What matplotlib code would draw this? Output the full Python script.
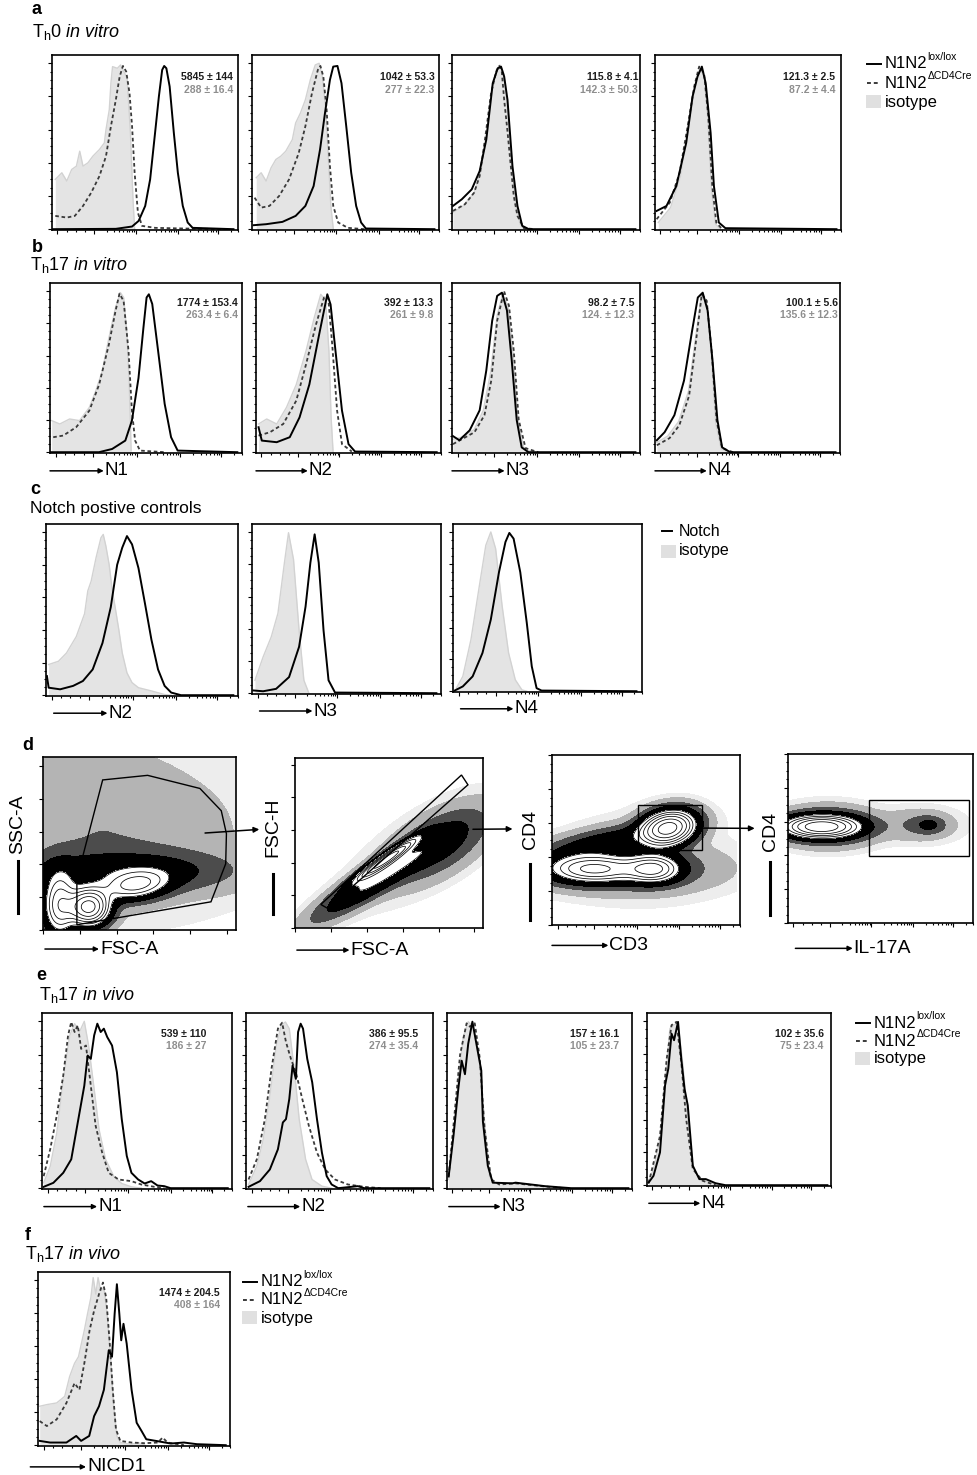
import numpy as np
import matplotlib
matplotlib.use("Agg")
import matplotlib.pyplot as plt
from matplotlib.lines import Line2D
from matplotlib.patches import Polygon, Rectangle

plt.rcParams['font.family'] = ['Liberation Sans', 'DejaVu Sans']
plt.rcParams['mathtext.fontset'] = 'custom'
plt.rcParams['mathtext.rm'] = 'Liberation Sans'
plt.rcParams['mathtext.it'] = 'Liberation Sans:italic'
plt.rcParams['mathtext.bf'] = 'Liberation Sans:bold'

# ---- histogram data: (fluorescence 0-100, % of max) ----
# row a : Th0 in vitro
a1_iso = ([1.8, 5.4, 8.1, 10.8, 13.4, 15.2, 17, 19.7, 22.4, 26, 28.7, 29.6, 31.4, 32.3, 33.2, 35.8, 37.6, 39.4, 41.2, 43, 44.4, 45.3],
          [30, 34, 29, 36, 38, 47, 38, 40, 44, 48, 52, 60, 72, 88, 98, 97, 99, 95, 91, 58, 18, 0])
a1_dash = ([1.8, 8.1, 12.5, 17, 21.5, 26, 29.6, 32.3, 35, 37.1, 38.9, 40.7, 42.5, 43.9, 45.3, 47.1, 49.3, 56.5, 72.6, 97.7],
           [8, 7, 8, 14, 22, 32, 44, 62, 78, 92, 98.4, 95, 82, 62, 34, 10, 2, 0.8, 0.4, 0])
a1_solid = ([0.4, 35, 43.9, 47.5, 51.1, 53.8, 56.5, 58.6, 60.4, 61.5, 62.7, 64.5, 66.8, 69, 71.7, 74.4, 77.1, 99.5],
            [0, 0.2, 1.6, 5, 14, 30, 58, 80, 96, 98.4, 97, 86, 58, 34, 14, 4, 0.8, 0])
a2_iso = ([2.3, 5, 7.7, 10.4, 13, 15.7, 18.4, 22, 23.8, 26.4, 29.1, 31.8, 34.5, 36.6, 38.4, 40.2, 41.6, 43, 44.3],
          [31, 34, 29, 37, 42, 44, 47, 54, 64, 70, 78, 90, 99, 100, 92, 72, 44, 14, 0.4])
a2_dash = ([1.4, 5, 9.5, 14.8, 20.2, 25.5, 29.1, 32.7, 35.9, 37.3, 38.9, 40.7, 42.5, 44.3, 47, 52.3, 61.3],
           [19, 13, 14, 20, 30, 46, 62, 82, 96, 98.4, 92, 72, 38, 14, 4, 0.8, 0])
a2_solid = ([0.9, 7.7, 16.6, 23.8, 29.1, 33.6, 37.1, 39.8, 42.5, 44.3, 46.6, 48.8, 51.4, 54.1, 56.8, 59.5, 62.1, 99.5],
            [2.4, 3, 4.4, 8, 14, 26, 48, 70, 90, 98, 98.4, 88, 62, 34, 14, 4, 0.4, 0])
a3_iso = ([0.5, 6, 12, 15.5, 18.5, 21.5, 24, 26, 28, 30, 32, 34.5, 37, 40],
          [10, 14, 22, 34, 55, 83, 96, 99, 94, 74, 45, 15, 3, 0])
a3_dash = ([0.5, 7, 12, 15, 18, 21.2, 24, 25.7, 27, 28.3, 30, 31.9, 33.5, 35.5, 39, 45],
           [11, 15, 22, 32, 55, 82, 95, 98.4, 95, 78, 60, 38, 20, 8, 0.6, 0])
a3_solid = ([0.5, 5.3, 10.7, 15, 18.6, 22.1, 24.8, 26.6, 28.3, 30.1, 32.8, 35.5, 38.1, 41.7, 99.5],
            [14, 18, 24, 35, 54, 88, 97, 98, 92, 78, 38, 14, 2, 0, 0])
a4_iso = ([1.8, 8.5, 14, 18.2, 22, 24.5, 27, 29, 31, 33.2, 36],
          [4, 13, 32, 60, 86, 97, 92, 66, 24, 3, 0])
a4_dash = ([0.9, 8.1, 13.5, 17.9, 21.5, 24.2, 26.9, 29.2, 31.4, 33.6, 36.8],
           [6, 16, 34, 62, 86, 98, 94, 68, 26, 4, 0])
a4_solid = ([0.9, 6.3, 11.7, 17.1, 20.6, 23.3, 25.7, 27.8, 30.5, 32.3, 35, 38.6, 99.5],
            [11, 14, 26, 52, 80, 92, 98, 88, 58, 26, 4, 0.6, 0])

# row b : Th17 in vitro
b1_iso = ([0.9, 5.2, 10.4, 15.7, 20.9, 24.3, 27.8, 31.3, 34.8, 37.4, 39.1, 40.9, 42.1, 43.1],
          [19.6, 17.5, 20.6, 19.6, 27.8, 38, 50.5, 71, 89.7, 99, 96, 73, 42, 1])
b1_dash = ([1.7, 7, 13.9, 20.9, 26.1, 31.3, 34.8, 36.9, 39.1, 41.7, 43.5, 45.2, 47.8, 61],
           [9.3, 10.3, 15.5, 25.8, 42, 67, 87.6, 98.4, 93.8, 63, 25.8, 7.2, 1, 0])
b1_solid = ([0, 26, 33, 40, 43.5, 47, 49.6, 51.3, 52.5, 54.3, 57.4, 60.9, 64.3, 67.8, 99.5],
            [0, 0, 2, 7.2, 19.6, 46, 77, 96, 98, 92, 63, 30, 9.3, 1, 0])
b2_iso = ([1.4, 5.9, 11.4, 16.8, 22.2, 27.6, 32.1, 35.7, 38.4, 40.2, 41.4, 42.5],
          [17.5, 20.6, 17.5, 27.8, 42, 63, 83.5, 98, 94, 63, 21.6, 0])
b2_dash = ([1.4, 7.7, 15, 22.2, 27.6, 33, 37.5, 39.8, 42, 44.7, 47.4, 52.8],
           [10.3, 12.4, 17.5, 32, 54.6, 79, 96, 96, 67, 25.8, 5, 0.4])
b2_solid = ([1.4, 3.2, 11.4, 18.6, 24, 29.4, 34.8, 39.3, 41.1, 43.8, 47.4, 51, 54.6, 99.6],
            [15.5, 7.2, 6.2, 9.3, 21.6, 42, 73, 98, 91.7, 63, 25.8, 5, 0.4, 0])
b3_iso = ([0.5, 4.5, 12, 17, 21, 24.5, 27.5, 30.5, 33, 35.8, 39, 44],
          [8, 9, 14, 26, 50, 85, 98, 90, 62, 20, 2, 0])
b3_dash = ([0.5, 4.3, 12.2, 17.6, 21.3, 24.5, 28.2, 30.9, 33.5, 36.2, 39.9, 46.8],
           [5, 7.4, 12.4, 23, 44.5, 81.6, 100, 91, 63, 20, 2.5, 0])
b3_solid = ([0.5, 4, 9.6, 15, 18.6, 21.8, 24.5, 27.1, 29.8, 32.4, 35.1, 37.8, 41.5, 99.5],
            [10, 7.4, 13.6, 26, 50.7, 81.6, 97, 99, 88, 57, 20, 3, 0, 0])
b4_iso = ([1, 7, 13, 18.5, 22.5, 25.5, 28.5, 31, 33.5, 36.5, 41],
          [6, 10, 19, 38, 72, 97, 93, 62, 18, 2, 0])
b4_dash = ([1, 8, 13.4, 18.8, 22.6, 25.8, 28.5, 31.2, 33.9, 37, 43],
           [4.3, 8.7, 16.7, 35, 69, 98, 94, 63, 20, 2.5, 0])
b4_solid = ([1, 5.3, 10.7, 16, 20.4, 23.6, 26.3, 29, 31.7, 34.4, 37, 41.4, 99.5],
            [7.4, 12.4, 23, 44.5, 75, 96, 99, 88, 57, 20, 3, 0, 0])

# row c : Notch positive controls
c1_iso = ([1.4, 6.6, 10.9, 16.1, 20.5, 22.2, 24, 26.6, 29.2, 30.4, 31.8, 33.5, 35.2, 37, 38.7, 40.5, 43, 45.7, 49.1, 56, 63, 66.5],
          [18.8, 20.8, 25.9, 36, 50, 64, 70, 84.4, 96.6, 98.6, 91.5, 80.4, 64.2, 52, 40, 25.9, 13.7, 7.7, 4.6, 2.6, 0.4, 0])
c1_solid = ([0.5, 1.4, 7.5, 14.4, 19.6, 24.8, 30, 34.4, 37.8, 40.5, 43, 45.7, 49.1, 52.6, 56, 59.5, 63, 66.5, 71.7, 99.5],
            [11.7, 4.6, 3.6, 5.7, 8.7, 15.8, 32, 54, 80, 90.5, 97.6, 92.5, 78, 56, 34, 15.8, 5.7, 1.6, 0, 0])
c2_iso = ([1.6, 6, 10.4, 14, 17.5, 19.7, 22.4, 25.4, 28, 30.7],
          [8, 22.5, 35, 49.6, 81, 99.6, 83, 39, 8, 0])
c2_solid = ([0.7, 6, 13, 20, 25.4, 28.9, 31.5, 33.8, 36, 38.6, 41.3, 44.8, 99.5],
            [1.7, 1.2, 2.7, 10, 28.8, 53.8, 81, 98.6, 81, 39, 8, 0.4, 0])
c3_iso = ([1.8, 5.3, 9.7, 14.2, 17.7, 20.4, 23, 26.5, 30, 33.6, 37.2, 39.8],
          [1.9, 9.3, 32.5, 66, 91.6, 100, 89.5, 53.6, 24, 7.2, 0.8, 0])
c3_solid = ([0.9, 5.3, 10.6, 15.9, 20.4, 24.8, 28.3, 30.4, 32.7, 36.3, 39.8, 42.5, 45.1, 47.8, 99],
            [0.4, 3, 9.3, 24, 45, 74.7, 93.7, 99.4, 95.8, 74.7, 43, 15.6, 1.9, 0.4, 0])

# row e : Th17 in vivo
e1_iso = ([0.9, 4.4, 7.9, 11.4, 14.9, 17.5, 20.1, 22.7, 25, 28, 30.6, 34.1, 38.5, 42.8, 48, 53.3],
          [3.2, 13, 33, 65.5, 91.6, 98.6, 93.6, 100, 85.5, 59.4, 35.3, 17.3, 7.2, 2.8, 0.8, 0])
e1_dash = ([0.9, 4.4, 7.9, 11.4, 14, 15.7, 17.5, 19.2, 21, 23.6, 26.2, 28.8, 32.3, 35.8, 41.1, 48, 53.3, 60.3, 65.6],
           [7.2, 23.3, 43.4, 67.5, 91.6, 99.6, 93.6, 97.6, 83.5, 85.5, 61.4, 37.3, 21.3, 9.2, 5.2, 4.2, 2.2, 0.8, 0])
e1_solid = ([0.9, 6.1, 11.4, 15.7, 19.2, 22.7, 24.5, 26.2, 28, 29.7, 31.5, 33.2, 35, 37.6, 40.2, 42.8, 45.5, 48, 51.6, 55.1, 58.6, 62, 65.6, 69, 99.7],
            [0.8, 3.2, 9.2, 17.3, 39.4, 61.4, 79.5, 77.5, 91.6, 98.6, 93.6, 95.6, 90.6, 85.5, 69.5, 41.4, 19.3, 9.2, 5.2, 2.8, 4.2, 1.6, 1.2, 0, 0])
e2_iso = ([1.4, 5.9, 9.4, 13, 16.5, 19.2, 21.5, 23.6, 26.3, 29, 32.5, 36, 41.4, 46.7],
          [2.2, 13.3, 29.3, 55.4, 85.5, 97.6, 99.6, 95.6, 71.5, 41.4, 17.3, 5.2, 1.2, 0])
e2_dash = ([1.4, 5.9, 10.3, 13.9, 17.4, 19.7, 21.8, 24.5, 27.2, 30.7, 34.3, 38.7, 43.2, 48.5, 55.6, 64.5, 73.4],
           [5.2, 17.3, 41.4, 71.5, 95.6, 99.2, 87.6, 77.5, 69.5, 53.4, 37.3, 21.3, 11.2, 5.2, 2.2, 0.8, 0])
e2_solid = ([1.4, 7.6, 13, 17.4, 20.1, 21.8, 23.6, 25.4, 27.2, 28.4, 29.8, 31.1, 33.4, 36.1, 38.7, 41.4, 44, 46.7, 50.3, 61, 64.5, 100],
            [0.8, 4.2, 11.2, 23.3, 39.4, 41.4, 53.4, 73.5, 65.5, 93.6, 98.6, 95.6, 77.5, 63.5, 41.4, 21.3, 7.2, 2.2, 0, 1.2, 0, 0])
e3_iso = ([0.9, 3.6, 6.3, 9, 11.7, 14.4, 18, 20.7, 23.4, 26.1, 36, 54, 63],
          [5.3, 29.7, 66.3, 90.7, 99.8, 96.8, 74.4, 40, 7.3, 2.9, 2.9, 1, 0])
e3_dash = ([0.9, 3.6, 7.2, 10.8, 12.6, 15.3, 18, 20.7, 24.3, 28.8, 37.8, 54, 65],
           [7, 38, 80, 98.8, 96.8, 98.8, 78.5, 35.8, 5.3, 2.2, 2.9, 1, 0])
e3_solid = ([0.9, 3.6, 6.3, 8.1, 9.9, 11.7, 14, 16.2, 18.9, 19.8, 22.5, 25.2, 36, 37.8, 54, 68.4, 100],
            [7, 31.7, 60.2, 76.4, 68.3, 86.6, 99.8, 86.6, 70.5, 39.9, 13.4, 3.3, 2.9, 3.3, 1.2, 0, 0])
e4_iso = ([0.9, 3.6, 7.2, 10, 12.7, 14.5, 17.2, 19.9, 22.6, 25.4, 29, 36.2, 39.9],
          [2.7, 9.8, 28.2, 60.8, 95.5, 97.6, 98.6, 73, 40.4, 11.8, 3.7, 1.2, 0])
e4_dash = ([0.9, 7.2, 10.9, 13.6, 16.3, 19, 21.7, 25.4, 30.8, 38],
           [1.2, 30, 77, 97.6, 99.6, 75, 40.4, 9.8, 2.7, 0])
e4_solid = ([0.9, 3.6, 7.2, 10, 11.8, 13.6, 15, 17.2, 19, 20.8, 22.6, 25.4, 29, 32.6, 38, 43.5, 100],
            [1.6, 5.7, 20, 60.8, 71, 92.4, 88.4, 99.6, 77.1, 58.8, 48.6, 11.8, 3.7, 3.7, 1.2, 0, 0])

# row f : NICD1
f_iso = ([0.9, 4.7, 9.9, 14.2, 16.8, 19.4, 21.5, 24.6, 26.3, 28.1, 29.3, 30.7, 31.9, 33.3, 35, 36.7, 38.5, 40.2, 41.9, 43.7, 49.7, 53.2, 56.7],
         [23.6, 24.6, 25.6, 29.6, 41.6, 49.6, 53.6, 69.6, 79.6, 89.6, 101.6, 91.6, 101.6, 93.6, 95.6, 79.6, 53.6, 23.6, 5.6, 1.6, 0.6, 1.6, 0])
f_dash = ([0.9, 4.7, 9.9, 15.1, 19.4, 22, 24.6, 27.4, 29.8, 32.4, 34.5, 36.2, 38, 39.7, 41.4, 43.7, 49.7, 56.7, 63.6, 66.2, 68.8, 77.5],
          [14.6, 11.6, 15.6, 25.6, 37.6, 33.6, 49.6, 69.6, 81.6, 91.6, 98.6, 89.6, 63.6, 33.6, 9.6, 2.6, 1.6, 1.2, 1.6, 4.6, 1.6, 0])
f_solid = ([0.9, 6.4, 15.1, 20.3, 22.9, 27.2, 29.8, 32.4, 35, 37.6, 39.3, 40.7, 41.9, 43.2, 44.2, 45.4, 47.1, 49.7, 52.4, 55, 57.5, 63.6, 70.5, 77.5, 84.4, 99.7],
           [2.6, 1.6, 1.6, 5.6, 2.6, 5.6, 17.6, 23.6, 33.6, 57.6, 53.6, 79.6, 97.6, 79.6, 63.6, 73.6, 61.6, 33.6, 13.6, 8.6, 3.6, 2.4, 1, 1.6, 0.6, 0])

# MFI annotations (lox/lox, deltaCD4Cre)
a_stats = [("5845 ± 144", "288 ± 16.4"), ("1042 ± 53.3", "277 ± 22.3"),
           ("115.8 ± 4.1", "142.3 ± 50.3"), ("121.3 ± 2.5", "87.2 ± 4.4")]
b_stats = [("1774 ± 153.4", "263.4 ± 6.4"), ("392 ± 13.3", "261 ± 9.8"),
           ("98.2 ± 7.5", "124. ± 12.3"), ("100.1 ± 5.6", "135.6 ± 12.3")]
e_stats = [("539 ± 110", "186 ± 27"), ("386 ± 95.5", "274 ± 35.4"),
           ("157 ± 16.1", "105 ± 23.7"), ("102 ± 35.6", "75 ± 23.4")]
f_stats = ("1474 ± 204.5", "408 ± 164")
notch_labels = ["N1", "N2", "N3", "N4"]

# ---- gating plots: populations as (x, y, sd_major, sd_minor, angle, weight) ----
d1_pops = [(62, 35, 17, 17, 0, 8.0), (125, 68, 30, 14, 10, 3.2), (22, 38, 14, 30, 0, 4.0),
           (110, 90, 90, 20, 0, 1.3), (120, 150, 120, 80, 0, 0.28), (60, 185, 70, 75, 0, 0.2)]
d2_pops = [(127, 105, 32, 5, 37, 6.0), (110, 72, 60, 12, 35, 2.0), (200, 128, 50, 24, 35, 1.2),
           (160, 105, 95, 30, 35, 0.15)]
d3_pops = [(63, 57, 9, 6, 15, 8.0), (22, 33, 15, 5, 0, 4.0), (55, 33, 9, 5, 0, 4.0),
           (30, 49, 22, 5, 12, 1.3), (38, 33, 30, 8, 0, 1.0), (50, 40, 30, 18, 0, 0.15)]
d4_pops = [(18, 57, 13, 4, 0, 6.0), (22, 57, 16, 7, 0, 1.3), (73, 58, 13, 6, 0, 0.5),
           (78, 58, 5, 3, 0, 0.7)]
d1_gate = [(46, 8), (46, 78), (81, 229), (142, 236), (213, 216), (242, 182), (249, 147), (248, 101), (228, 43)]
d2_gate = [(36, 36), (232, 234), (241, 219), (45.5, 30)]
d3_gate = (46.9, 44.1, 81.4, 70.6)
d4_gate = (44.9, 39.8, 99.6, 72.8)

W, H = 977, 1475
fig = plt.figure(figsize=(W / 100, H / 100), dpi=100)

XMAJ = [3, 23, 46, 69, 91]
XMIN = [8, 13, 18] + [d + 23 * np.log10(k) for d in (23, 46, 69) for k in range(2, 10)] + [91 + 23 * np.log10(k) for k in (2, 3)]
ISO_FILL = '#e4e4e4'
DASH = (0, (2, 1.5))


def add_ax(x0, y0, x1, y1):
    return fig.add_axes([x0 / W, 1 - y1 / H, (x1 - x0) / W, (y1 - y0) / H])


def style(ax, flow=True):
    if flow:
        ax.set_xticks(XMAJ)
        ax.set_xticks(XMIN, minor=True)
        ax.set_yticks([0, 20, 40, 60, 80, 100])
        ax.set_yticks([v for v in range(5, 100, 5) if v % 20], minor=True)
    ax.tick_params(which='both', direction='out', labelbottom=False, labelleft=False,
                   width=0.8, color='k', top=False, right=False)
    ax.tick_params(which='major', length=3)
    ax.tick_params(which='minor', length=1.6)
    for s in ax.spines.values():
        s.set_linewidth(1.2)


def hist_panel(box, iso=None, dash=None, solid=None):
    ax = add_ax(*box)
    ax.set_xlim(0, 100)
    ax.set_ylim(-0.5, 105)
    if iso is not None:
        ax.fill_between(iso[0], iso[1], 0, color=ISO_FILL, lw=0, zorder=1)
        ax.plot(iso[0], iso[1], color='#d2d2d2', lw=1.0, zorder=1.5)
    if dash is not None:
        ax.plot(dash[0], dash[1], color='#3a3a3a', lw=1.3, ls=DASH, zorder=2)
    if solid is not None:
        ax.plot(solid[0], solid[1], color='black', lw=1.4, zorder=3)
    style(ax)
    return ax


def stats(ax, xr, pair, y1=0.87, y2=0.80):
    ax.text(xr, y1, pair[0], transform=ax.transAxes, ha='right', va='center',
            fontsize=7.5, weight='bold', color='#1c1c1c')
    ax.text(xr, y2, pair[1], transform=ax.transAxes, ha='right', va='center',
            fontsize=7.5, weight='bold', color='#8e8e8e')


def xarrow(ax, text, x0, x1, y, fs=13.5):
    ax.annotate('', xy=(x1, y), xytext=(x0, y), xycoords='axes fraction',
                arrowprops=dict(arrowstyle='-|>', lw=1.1, color='k', mutation_scale=7,
                                shrinkA=0, shrinkB=0), annotation_clip=False)
    ax.text(x1 + 0.005, y, text, transform=ax.transAxes, ha='left', va='center', fontsize=fs)


def yarrow(ax, text, x, y0, y1, yc, fs=14):
    ax.plot([x, x], [y0, y1], transform=ax.transAxes, color='k', lw=2.2, clip_on=False)
    ax.text(x, yc, text, transform=ax.transAxes, rotation=90, ha='center', va='center', fontsize=fs)


def ptext(x, y, s, **kw):
    return fig.text(x / W, 1 - y / H, s, **kw)


def key_line(x0, x1, y, ls='-', color='k'):
    fig.add_artist(Line2D([x0 / W, x1 / W], [1 - y / H, 1 - y / H], color=color, lw=1.4, ls=ls))


def key_box(x0, y0, x1, y1):
    fig.add_artist(Rectangle((x0 / W, 1 - y1 / H), (x1 - x0) / W, (y1 - y0) / H,
                             transform=fig.transFigure, facecolor='#e0e0e0', edgecolor='none'))


def legend3(x, y, step=19, fs=12):
    # x: left of key, y: centre of first entry (pixels)
    key_line(x, x + 14, y)
    t = ptext(x + 18, y, 'N1N2', fontsize=fs, va='center', ha='left')
    plt.annotate('lox/lox', xy=(1.0, 0.95), xycoords=t, fontsize=7.5, ha='left', va='center')
    key_line(x, x + 13, y + step, ls=DASH, color='#3a3a3a')
    t2 = ptext(x + 18, y + step, 'N1N2', fontsize=fs, va='center', ha='left')
    plt.annotate('ΔCD4Cre', xy=(1.0, 0.95), xycoords=t2, fontsize=7.5, ha='left', va='center')
    key_box(x - 1, y + 2 * step - 7, x + 14, y + 2 * step + 6)
    ptext(x + 18, y + 2 * step, 'isotype', fontsize=fs, va='center', ha='left')


# ---------- row a ----------
ptext(32, 10, 'a', fontsize=13, weight='bold', va='center')
ptext(32, 37, r'T$_{\mathregular{h}}$0 $\mathit{in\ vitro}$', fontsize=13, va='baseline')
a_boxes = [(52, 55, 238, 230), (252, 55, 439, 230), (452, 55, 640, 230), (655, 55, 841, 230)]
a_data = [(a1_iso, a1_dash, a1_solid), (a2_iso, a2_dash, a2_solid),
          (a3_iso, a3_dash, a3_solid), (a4_iso, a4_dash, a4_solid)]
a_xr = [0.973, 0.975, 0.99, 0.968]
for i in range(4):
    ax = hist_panel(a_boxes[i], *a_data[i])
    stats(ax, a_xr[i], a_stats[i], 0.872, 0.80)
legend3(867, 64)

# ---------- row b ----------
ptext(32, 247, 'b', fontsize=13, weight='bold', va='center')
ptext(30, 270, r'T$_{\mathregular{h}}$17 $\mathit{in\ vitro}$', fontsize=13, va='baseline')
b_boxes = [(50, 283, 242, 453), (256, 283, 441, 453), (452, 283, 640, 453), (655, 283, 840, 453)]
b_data = [(b1_iso, b1_dash, b1_solid), (b2_iso, b2_dash, b2_solid),
          (b3_iso, b3_dash, b3_solid), (b4_iso, b4_dash, b4_solid)]
b_xr = [0.98, 0.958, 0.97, 0.99]
for i in range(4):
    ax = hist_panel(b_boxes[i], *b_data[i])
    stats(ax, b_xr[i], b_stats[i], 0.884, 0.812)
    xarrow(ax, notch_labels[i], 0.0, 0.28, -0.105)

# ---------- row c ----------
ptext(30, 490, 'c', fontsize=13, weight='bold', va='center')
ptext(30, 513, 'Notch postive controls', fontsize=12.5, va='baseline')
c_boxes = [(46, 524, 238, 696), (252, 524, 441, 694), (453, 524, 642, 692)]
c_data = [(c1_iso, None, c1_solid), (c2_iso, None, c2_solid), (c3_iso, None, c3_solid)]
for i in range(3):
    ax = hist_panel(c_boxes[i], *c_data[i])
    xarrow(ax, notch_labels[i + 1], 0.04, 0.32, -0.1)
key_line(662, 672, 531)
ptext(679, 532, 'Notch', fontsize=11.5, va='center')
key_box(661, 545, 676, 558)
ptext(679, 551, 'isotype', fontsize=11.5, va='center')

# ---------- row d ----------
ptext(22, 745, 'd', fontsize=13, weight='bold', va='center')


def dens(pops, xlim, ylim):
    xs = np.linspace(xlim[0], xlim[1], 320)
    ys = np.linspace(ylim[0], ylim[1], 320)
    X, Y = np.meshgrid(xs, ys)
    Z = np.zeros_like(X)
    for cx, cy, sa, sb, ang, amp in pops:
        t = np.deg2rad(ang)
        u = (X - cx) * np.cos(t) + (Y - cy) * np.sin(t)
        v = -(X - cx) * np.sin(t) + (Y - cy) * np.cos(t)
        Z += amp * np.exp(-0.5 * ((u / sa) ** 2 + (v / sb) ** 2))
    return X, Y, Z


def dot_panel(box, pops, xlim, ylim, flow):
    ax = add_ax(*box)
    X, Y, Z = dens(pops, xlim, ylim)
    ax.contourf(X, Y, Z, levels=[0.05, 0.15, 0.45, 0.9, 2.0, 1e4],
                colors=['#ededed', '#b4b4b4', '#4c4c4c', '#000000', '#ffffff'])
    ax.contour(X, Y, Z, levels=[2.0, 2.7, 3.5, 4.5, 5.8, 7.3], colors='k', linewidths=0.55)
    ax.set_xlim(*xlim)
    ax.set_ylim(*ylim)
    if flow:
        style(ax, True)
    else:
        ax.set_xticks(range(0, 260, 50))
        ax.set_yticks(range(0, 260, 50))
        style(ax, False)
    return ax


d1 = dot_panel((43, 757, 236, 930), d1_pops, (0, 262), (0, 264), False)
d1.add_patch(Polygon(d1_gate, closed=True, fill=False, ec='k', lw=1.0))
yarrow(d1, 'SSC-A', -0.13, 0.1, 0.4, 0.61)
xarrow(d1, 'FSC-A', 0.01, 0.29, -0.11, fs=14)

d2 = dot_panel((295, 758, 483, 928), d2_pops, (0, 262), (0, 260), False)
d2.add_patch(Polygon(d2_gate, closed=True, fill=False, ec='k', lw=1.0))
yarrow(d2, 'FSC-H', -0.117, 0.08, 0.32, 0.59)
xarrow(d2, 'FSC-A', 0.01, 0.29, -0.13, fs=14)

d3 = dot_panel((552, 755, 740, 925), d3_pops, (0, 100), (0, 100), True)
d3.add_patch(Rectangle((d3_gate[0], d3_gate[1]), d3_gate[2] - d3_gate[0], d3_gate[3] - d3_gate[1],
                       fill=False, ec='k', lw=1.0))
yarrow(d3, 'CD4', -0.117, 0.03, 0.36, 0.56)
xarrow(d3, 'CD3', 0.0, 0.3, -0.12, fs=14)

d4 = dot_panel((788, 754, 973, 923), d4_pops, (0, 100), (0, 100), True)
d4.add_patch(Rectangle((d4_gate[0], d4_gate[1]), d4_gate[2] - d4_gate[0], d4_gate[3] - d4_gate[1],
                       fill=False, ec='k', lw=1.0))
yarrow(d4, 'CD4', -0.097, 0.05, 0.36, 0.54)
xarrow(d4, 'IL-17A', 0.04, 0.35, -0.15, fs=14)

arrow_kw = dict(arrowstyle='-|>', lw=1.1, color='k', mutation_scale=8, shrinkA=0, shrinkB=0)
d2.annotate('', xy=(-0.19, 0.58), xycoords=d2.transAxes, xytext=(220, 148), textcoords=d1.transData,
            arrowprops=arrow_kw, annotation_clip=False)
d3.annotate('', xy=(-0.21, 0.565), xycoords=d3.transAxes, xytext=(248, 151), textcoords=d2.transData,
            arrowprops=arrow_kw, annotation_clip=False)
d4.annotate('', xy=(-0.18, 0.56), xycoords=d4.transAxes, xytext=(81.4, 57), textcoords=d3.transData,
            arrowprops=arrow_kw, annotation_clip=False)

# ---------- row e ----------
ptext(36, 975, 'e', fontsize=13, weight='bold', va='center')
ptext(39, 1000, r'T$_{\mathregular{h}}$17 $\mathit{in\ vivo}$', fontsize=13, va='baseline')
e_boxes = [(42, 1013, 232, 1189), (246, 1013, 433, 1189), (447, 1013, 632, 1189), (647, 1013, 831, 1186)]
e_data = [(e1_iso, e1_dash, e1_solid), (e2_iso, e2_dash, e2_solid),
          (e3_iso, e3_dash, e3_solid), (e4_iso, e4_dash, e4_solid)]
e_xr = [0.867, 0.92, 0.93, 0.96]
for i in range(4):
    ax = hist_panel(e_boxes[i], *e_data[i])
    stats(ax, e_xr[i], e_stats[i], 0.88, 0.81)
    xarrow(ax, notch_labels[i], 0.01, 0.29, -0.1)
legend3(856, 1023, step=18)

# ---------- row f ----------
ptext(25, 1235, 'f', fontsize=13, weight='bold', va='center')
ptext(25, 1259, r'T$_{\mathregular{h}}$17 $\mathit{in\ vivo}$', fontsize=13, va='baseline')
ax = hist_panel((38, 1272, 230, 1446), f_iso, f_dash, f_solid)
stats(ax, 0.948, f_stats, 0.88, 0.81)
xarrow(ax, 'NICD1', -0.04, 0.25, -0.12, fs=14)
legend3(243, 1282, step=18)

fig.savefig('out.png', dpi=100, facecolor='white')
